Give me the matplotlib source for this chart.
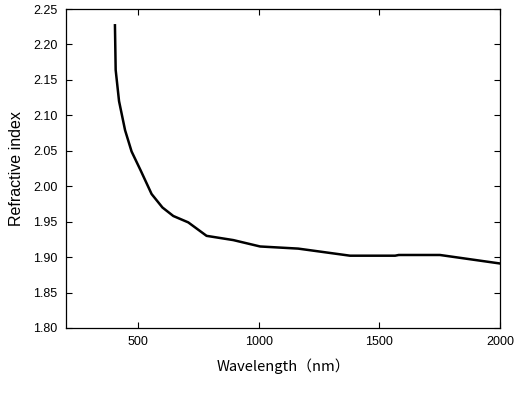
import matplotlib
matplotlib.use("Agg")
import matplotlib.pyplot as plt

wavelength = [403, 406, 420, 445, 472, 510, 555, 600, 645, 707, 783, 894, 1005, 1163, 1378, 1565, 1580, 1751, 2000]
index = [2.227, 2.164, 2.12, 2.079, 2.049, 2.022, 1.989, 1.970, 1.958, 1.949, 1.930, 1.924, 1.915, 1.912, 1.902, 1.902, 1.903, 1.903, 1.891]

xticks = [500, 1000, 1500, 2000]
yticks = [1.80, 1.85, 1.90, 1.95, 2.00, 2.05, 2.10, 2.15, 2.20, 2.25]

fig = plt.figure(figsize=(5.17, 4.13), dpi=100)
ax = fig.add_axes([66/517, 85/413, 434/517, 319/413])
ax.plot(wavelength, index, color="black", lw=1.8)
ax.set_xlim(200, 2000)
ax.set_ylim(1.80, 2.25)
ax.set_xticks(xticks)
ax.set_yticks(yticks)
ax.set_yticklabels([f"{v:.2f}" for v in yticks])
ax.tick_params(direction="in", top=True, right=True, labelsize=9, length=4, width=0.8, pad=6)
for lab in ax.get_xticklabels() + ax.get_yticklabels():
    lab.set_family(["Liberation Sans", "DejaVu Sans"])
for s in ax.spines.values():
    s.set_linewidth(0.9)
ax.set_xlabel("Wavelength（nm）", fontsize=10.6, family=["Noto Sans CJK JP", "DejaVu Sans"], labelpad=7)
ax.set_ylabel("Refractive index", fontsize=11.5, family=["Liberation Sans", "DejaVu Sans"], labelpad=7)
fig.savefig("out.png", dpi=100)
